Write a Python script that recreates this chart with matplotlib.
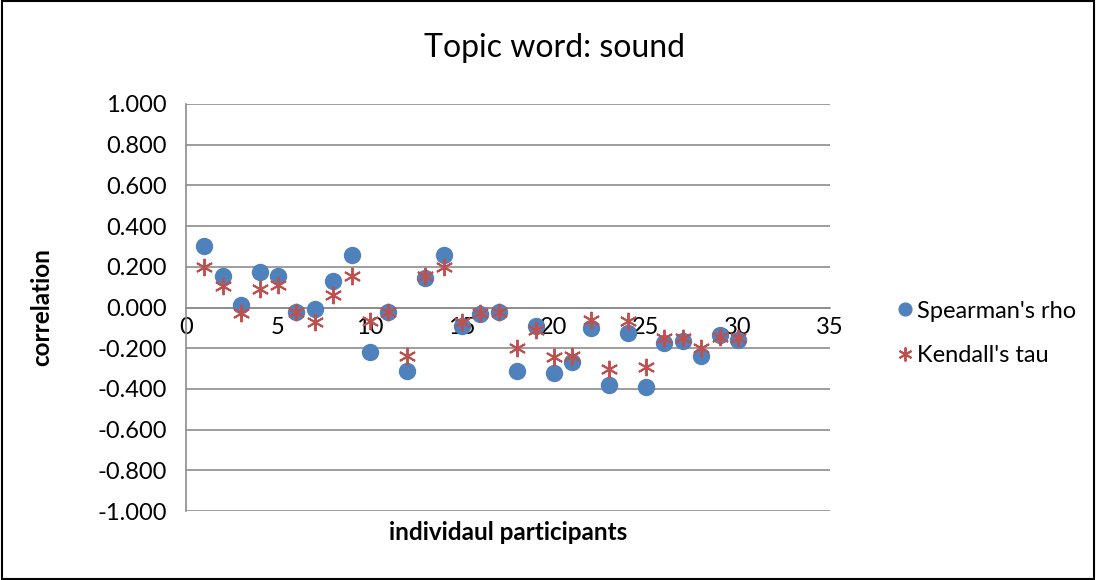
import matplotlib.pyplot as plt
import numpy as np

# correlation per participant for topic word "sound"
participants = list(range(1, 31))
spearman_rho = [0.300, 0.155, 0.010, 0.175, 0.155, -0.020, -0.005, 0.130, 0.260, -0.220,
                -0.020, -0.310, 0.145, 0.260, -0.090, -0.030, -0.020, -0.310, -0.090, -0.320,
                -0.270, -0.100, -0.380, -0.125, -0.390, -0.175, -0.165, -0.240, -0.135, -0.160]
kendall_tau = [0.200, 0.107, -0.025, 0.090, 0.110, -0.020, -0.070, 0.060, 0.155, -0.066,
               -0.020, -0.240, 0.155, 0.200, -0.070, -0.025, -0.020, -0.200, -0.110, -0.245,
               -0.240, -0.060, -0.300, -0.066, -0.290, -0.150, -0.150, -0.200, -0.145, -0.150]
y_ticks = [-1.0, -0.8, -0.6, -0.4, -0.2, 0.0, 0.2, 0.4, 0.6, 0.8, 1.0]
x_ticks = [0, 5, 10, 15, 20, 25, 30, 35]

plt.rcParams['font.family'] = ['Lato', 'DejaVu Sans']

fig = plt.figure(figsize=(10.96, 5.8), dpi=100)
ax = fig.add_axes([186/1096, 1 - 511/580, (830 - 186)/1096, (511 - 104)/580])

ax.plot(participants, spearman_rho, 'o', color='#4F81BD', markersize=11.5, label="Spearman's rho", zorder=3)
ax.plot(participants, kendall_tau, linestyle='none', marker=(6, 2, 0), color='#C0504D',
        markersize=12.5, markeredgewidth=1.4, label="Kendall's tau", zorder=4)

ax.set_xlim(0, 35)
ax.set_ylim(-1, 1)
ax.set_yticks(y_ticks)
ax.set_yticklabels(['%.3f' % v for v in y_ticks])
ax.set_xticks(x_ticks)
ax.grid(axis='y', color='#8C8C8C', linewidth=1.2)
ax.set_axisbelow(True)

for s in ['top', 'right']:
    ax.spines[s].set_visible(False)
ax.spines['bottom'].set_position(('data', 0))
ax.spines['bottom'].set_color('#8C8C8C')
ax.spines['bottom'].set_linewidth(1.2)
ax.spines['left'].set_color('#8C8C8C')
ax.spines['left'].set_linewidth(1.2)
ax.tick_params(axis='both', length=0, labelsize=17)
ax.tick_params(axis='y', pad=14)
ax.tick_params(axis='x', pad=7)
for lab in ax.get_xticklabels():
    lab.set_zorder(5)

fig.text(555/1096, 1 - 48/580, 'Topic word: sound', fontsize=23, ha='center', va='center')
fig.text(42/1096, 1 - 307/580, 'correlation', fontsize=17.5, fontweight='bold',
         rotation=90, ha='center', va='center')
fig.text(508/1096, 1 - 533/580, 'individaul participants', fontsize=17.5, fontweight='bold',
         ha='center', va='center')

ax.legend(loc='center left', bbox_to_anchor=(1.065, 0.436), frameon=False, fontsize=17,
          handletextpad=0.0, labelspacing=1.0, markerscale=0.8, handlelength=1.0)

fig.patches.append(plt.Rectangle((0.002, 0.002), 0.996, 0.996, transform=fig.transFigure,
                                 fill=False, edgecolor='black', linewidth=1.5))

fig.savefig('out.png', dpi=100)
